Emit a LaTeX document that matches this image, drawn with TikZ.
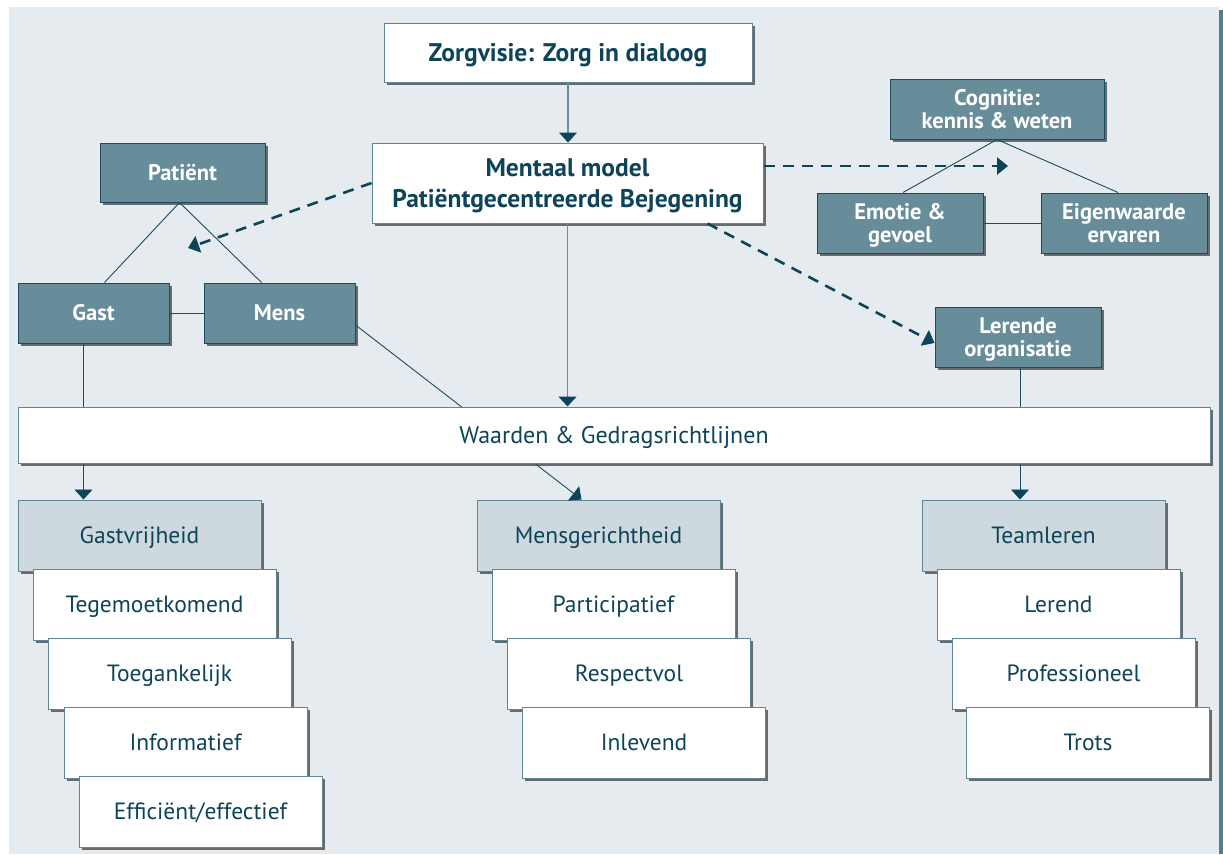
\documentclass[tikz,border=0pt]{standalone}
\usepackage{fontspec}
\setmainfont{PT Sans}
\usetikzlibrary{arrows.meta,shadows}
\definecolor{bgpanel}{HTML}{E6EBF0}
\definecolor{darkfill}{HTML}{678D9B}
\definecolor{lightfill}{HTML}{CDD9DF}
\definecolor{ink}{HTML}{0E4459}
\definecolor{edge}{HTML}{1A4B5F}
\definecolor{midline}{HTML}{6B8E9E}
\definecolor{whiteedge}{HTML}{5E8696}
\definecolor{strip}{HTML}{4F7F8F}
\newcommand\myfs[2]{\fontsize{#1}{#2}\selectfont}
\tikzset{
  basebox/.style={rectangle, inner sep=0pt, align=center, text depth=0pt,
    drop shadow={shadow xshift=2.5pt, shadow yshift=-2.5pt, fill=black!75, opacity=0.75}},
  darkbox/.style={basebox, fill=darkfill, draw=edge, line width=1pt, text=white,
    font=\bfseries\myfs{22.5}{23}, minimum width=#1, minimum height=60pt, text height=15.75pt},
  twolines/.style={text height=38.75pt},
  whitebox/.style={basebox, fill=white, draw=whiteedge, line width=1pt, text=ink,
    font=\bfseries\myfs{25.5}{31}, text height=17.85pt},
  headbox/.style={basebox, fill=lightfill, draw=whiteedge, line width=1pt, text=ink,
    font=\myfs{23.5}{26}, minimum width=243pt, minimum height=71pt, text height=16.45pt},
  itembox/.style={basebox, fill=white, draw=whiteedge, line width=1pt, text=ink,
    font=\myfs{23.5}{26}, minimum width=243pt, minimum height=71pt, text height=16.45pt},
  thinline/.style={draw=edge, line width=0.9pt},
  vline/.style={draw=midline, line width=1.4pt, -{Triangle[length=10pt,width=18pt,color=ink]}},
  thinarrow/.style={thinline, -{Triangle[length=10pt,width=18pt,color=ink]}},
  dasharrow/.style={draw=ink, line width=2.6pt, dash pattern=on 11pt off 8pt,
    -{Triangle[length=11pt,width=17pt]}}
}
\begin{document}
\begin{tikzpicture}[x=1pt,y=-1pt]
\useasboundingbox (0,0) rectangle (1223,854);
\fill[white] (0,0) rectangle (1223,854);
\fill[bgpanel] (9,7) rectangle (1219,854);
\fill[strip] (1219,10) rectangle (1223,854);

% top nodes
\node[whitebox, minimum width=368pt, minimum height=59pt] (zorg) at (568,52.5) {Zorgvisie: Zorg in dialoog};
\node[whitebox, minimum width=391pt, minimum height=80pt, text height=48.85pt] (mental) at (567.5,183) {Mentaal model\\Patiëntgecentreerde Bejegening};

% patient triangle
\node[darkbox=165pt, minimum height=59pt] (patient) at (182.5,172.5) {Patiënt};
\node[darkbox=151pt] (gast) at (93.5,313) {Gast};
\node[darkbox=151pt] (mens) at (279.5,313) {Mens};

% cognitie triangle
\node[darkbox=214pt, twolines] (cogn) at (997,109) {Cognitie:\\kennis \& weten};
\node[darkbox=166pt, twolines] (emotie) at (900,223) {Emotie \&\\gevoel};
\node[darkbox=166pt, twolines] (eigen) at (1124,223) {Eigenwaarde\\ervaren};
\node[darkbox=166pt, twolines] (lerende) at (1018,337) {Lerende\\organisatie};

% thin connectors
\draw[thinline] ([xshift=-3pt]patient.south) -- ([xshift=11pt]gast.north);
\draw[thinline] ([xshift=-3pt]patient.south) -- ([xshift=-18pt]mens.north);
\draw[thinline] (gast.east) -- (mens.west);
\draw[thinline] (cogn.south) -- ([xshift=3pt]emotie.north);
\draw[thinline] (cogn.south) -- ([xshift=-6pt]eigen.north);
\draw[thinline] (emotie.east) -- (eigen.west);

% lower header boxes
\node[headbox] (gastv) at (139.5,535.5) {Gastvrijheid};
\node[headbox] (mensg) at (598.5,535.5) {Mensgerichtheid};
\node[headbox] (teaml) at (1043.5,535.5) {Teamleren};

% connectors passing behind the Waarden box
\draw[thinarrow] ([xshift=66pt]gast.south west) -- ([xshift=66pt]gastv.north west);
\draw[thinarrow] ([yshift=-12pt]mens.east) -- ([xshift=105pt]mensg.north west);
\draw[thinarrow] ([xshift=2pt]lerende.south) -- ([xshift=2pt]lerende.south |- teaml.north);

\node[basebox, fill=white, draw=whiteedge, line width=1pt, text=ink, font=\myfs{24}{26},
  text height=16.8pt, minimum width=1192pt, minimum height=56pt] (waarden) at (614,435) {Waarden \& Gedragsrichtlijnen};

% vertical arrows
\draw[vline] (zorg.south) -- (zorg.south |- mental.north);
\draw[vline] (mental.south) -- (mental.south |- waarden.north);

% dashed arrows
\coordinate (cogtip) at (1008,166);
\coordinate (pattip) at (188,248);
\draw[dasharrow] ([yshift=17pt]mental.east) -- (cogtip);
\draw[dasharrow] (mental.west) -- (pattip);
\draw[dasharrow] ([xshift=140pt]mental.south) -- ([yshift=-6pt]lerende.west);

% stacks
\node[itembox] (teg) at (154.5,604.5) {Tegemoetkomend};
\node[itembox] (toeg) at (169.5,673.5) {Toegankelijk};
\node[itembox] (info) at (185.5,742.5) {Informatief};
\node[itembox] (effi) at (200.5,811.5) {Efficiënt/effectief};

\node[itembox] (part) at (613.5,604.5) {Participatief};
\node[itembox] (resp) at (629,673.5) {Respectvol};
\node[itembox] (inlev) at (644,742.5) {Inlevend};

\node[itembox] (lerend) at (1058.5,604.5) {Lerend};
\node[itembox] (prof) at (1073.5,673.5) {Professioneel};
\node[itembox] (trots) at (1088,742.5) {Trots};
\end{tikzpicture}
\end{document}
